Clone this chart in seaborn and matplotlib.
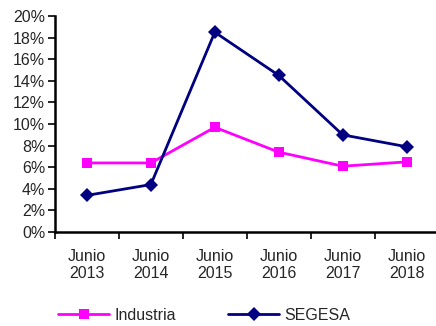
import matplotlib
matplotlib.use("Agg")
import matplotlib.pyplot as plt
from matplotlib.ticker import FixedLocator, PercentFormatter
import pandas as pd
import seaborn as sns

periods = ["Junio\n2013", "Junio\n2014", "Junio\n2015", "Junio\n2016", "Junio\n2017", "Junio\n2018"]
industria = [6.4, 6.4, 9.7, 7.4, 6.1, 6.5]
segesa = [3.4, 4.4, 18.5, 14.5, 9.0, 7.9]

df = pd.DataFrame({
    "pos": list(range(len(periods))) * 2,
    "value": industria + segesa,
    "serie": ["Industria"] * len(periods) + ["SEGESA"] * len(periods),
})

sns.set_style("white")
plt.rcParams["font.family"] = ["Liberation Sans", "DejaVu Sans"]
plt.rcParams["font.size"] = 11.5

fig = plt.figure(figsize=(4.36, 3.26), dpi=100)
ax = fig.add_axes([0.126, 0.288, 0.88, 0.663])

sns.lineplot(
    data=df, x="pos", y="value", hue="serie", style="serie",
    palette={"Industria": "#FF00FF", "SEGESA": "#000080"},
    markers={"Industria": "s", "SEGESA": "D"}, dashes=False,
    markersize=7, linewidth=2, markeredgewidth=0, ax=ax,
)

ax.set_xlim(-0.5, len(periods) - 0.5)
ax.set_ylim(0, 20)
ax.yaxis.set_major_locator(FixedLocator(range(0, 21, 2)))
ax.yaxis.set_major_formatter(PercentFormatter(decimals=0))
ax.xaxis.set_major_locator(FixedLocator([i - 0.5 for i in range(len(periods) + 1)]))
ax.xaxis.set_minor_locator(FixedLocator(range(len(periods))))
ax.set_xticklabels([], minor=False)
ax.set_xticklabels(periods, minor=True)
ax.tick_params(axis="x", which="major", direction="out", length=5, width=1.2, color="black", bottom=True)
ax.tick_params(axis="x", which="minor", length=0, pad=12)
ax.tick_params(axis="y", direction="out", length=5, width=1.2, color="black", left=True, pad=2)
ax.set_xlabel("")
ax.set_ylabel("")

for side in ["top", "right"]:
    ax.spines[side].set_visible(False)
for side in ["left", "bottom"]:
    ax.spines[side].set_color("black")
    ax.spines[side].set_linewidth(1.8)

handles, labels = ax.get_legend_handles_labels()
ax.legend(handles, labels, loc="upper left", bbox_to_anchor=(-0.029, -0.285),
          ncol=2, frameon=False, columnspacing=3.3, handlelength=3.2, handletextpad=0.3,
          fontsize=11.5)

fig.savefig("out.png", dpi=100)
